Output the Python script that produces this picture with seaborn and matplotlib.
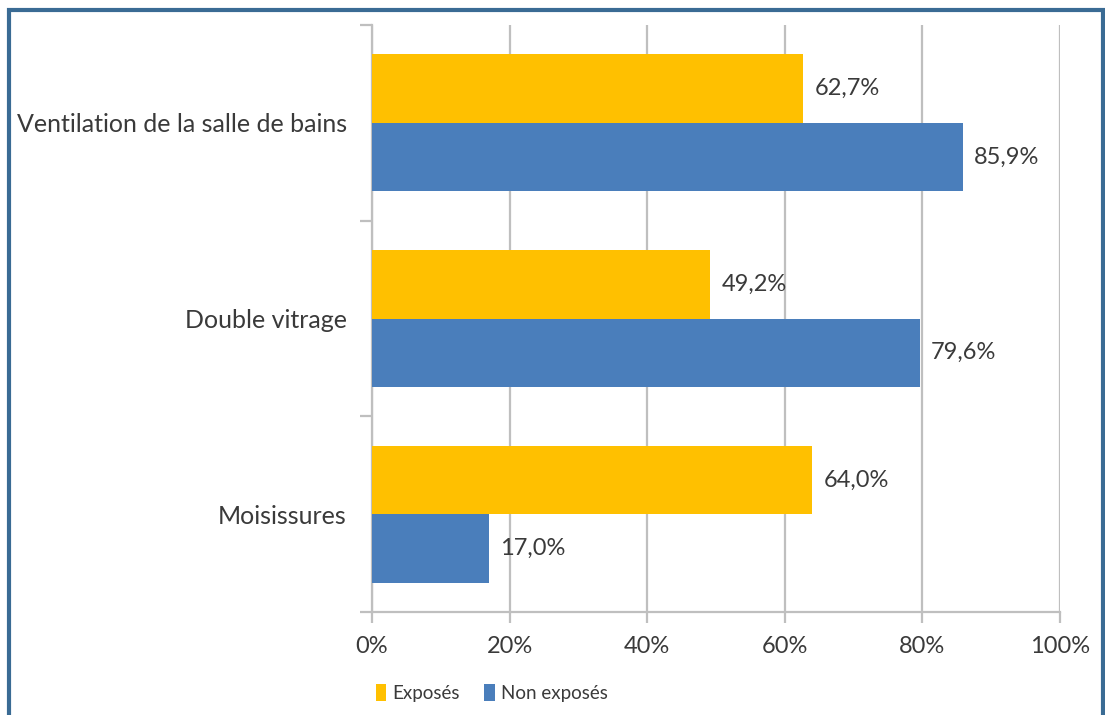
import matplotlib
matplotlib.use("Agg")
import matplotlib.pyplot as plt
from matplotlib.patches import Rectangle
from matplotlib.ticker import FixedLocator, PercentFormatter
import seaborn as sns
import pandas as pd

# Survey results (% of households)
categories = ["Ventilation de la salle de bains", "Double vitrage", "Moisissures"]
groups = ["Exposés", "Non exposés"]
exposes = [62.7, 49.2, 64.0]
non_exposes = [85.9, 79.6, 17.0]
x_ticks = [0, 20, 40, 60, 80, 100]

df = pd.DataFrame({
    "categorie": categories * 2,
    "groupe": [groups[0]] * 3 + [groups[1]] * 3,
    "valeur": exposes + non_exposes,
})

sns.set_theme(style="white")
plt.rcParams["font.family"] = ["Lato", "DejaVu Sans"]
text_color = "#3a3a3a"
grid_color = "#bfbfbf"
fs = 17

fig = plt.figure(figsize=(11.05, 7.15), dpi=100)
ax = fig.add_axes([372 / 1105, 103 / 715, 688 / 1105, 587 / 715])

sns.barplot(
    data=df, y="categorie", x="valeur", hue="groupe",
    order=categories, hue_order=groups,
    palette={"Exposés": "#FFC000", "Non exposés": "#4A7EBB"},
    orient="h", width=0.7, saturation=1, linewidth=0, ax=ax, zorder=3,
)

# Value labels
for container in ax.containers:
    labels = [f"{v:.1f}%".replace(".", ",") for v in container.datavalues]
    ax.bar_label(container, labels=labels, padding=8, fontsize=fs, color=text_color)

ax.set_xlim(0, 100)
ax.set_ylim(2.5, -0.5)
ax.set_xticks(x_ticks)
ax.xaxis.set_major_formatter(PercentFormatter(decimals=0))
ax.set_xlabel("")
ax.set_ylabel("")

ax.xaxis.grid(True, color=grid_color, linewidth=1.6, zorder=0)
ax.set_axisbelow(True)

for side in ("top", "right"):
    ax.spines[side].set_visible(False)
for side in ("left", "bottom"):
    ax.spines[side].set_color(grid_color)
    ax.spines[side].set_linewidth(1.6)

ax.tick_params(axis="x", which="major", bottom=True, length=8, width=1.6,
               color=grid_color, labelsize=fs, labelcolor=text_color, pad=9)
ax.tick_params(axis="y", which="major", left=False, labelsize=18,
               labelcolor=text_color, pad=12)
ax.yaxis.set_minor_locator(FixedLocator([-0.5, 0.5, 1.5, 2.5]))
ax.tick_params(axis="y", which="minor", left=True, length=9, width=1.6,
               color=grid_color)

leg = ax.legend(
    loc="center", ncol=2, frameon=False,
    fontsize=13.5, handlelength=0.55, handleheight=1.0, handletextpad=0.35,
    columnspacing=1.3, labelcolor=text_color,
)
leg.set_bbox_to_anchor((492 / 1105, 22 / 715), transform=fig.transFigure)

# Outer frame
fig.add_artist(Rectangle((9 / 1105, -0.05), (1103 - 9) / 1105, (715 - 10) / 715 + 0.05,
                         transform=fig.transFigure, fill=False,
                         edgecolor="#3a6b94", linewidth=3, clip_on=False))

fig.savefig("out.png", dpi=100)
